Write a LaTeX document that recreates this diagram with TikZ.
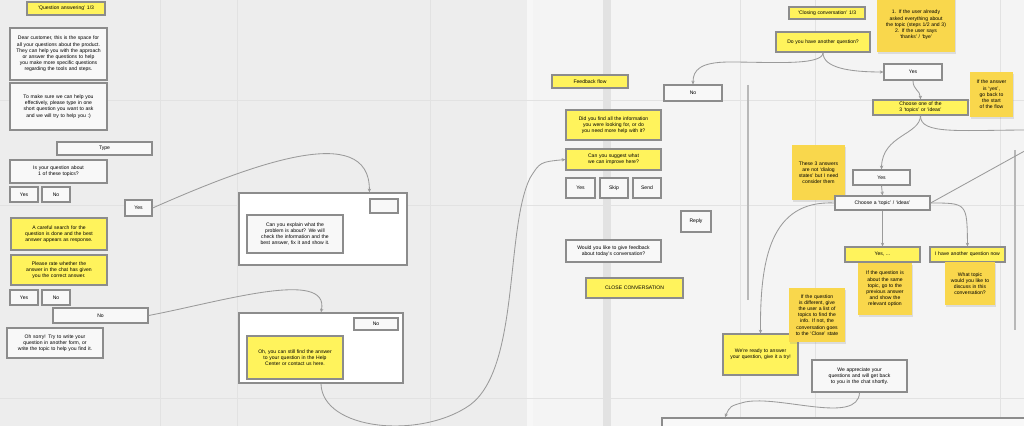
\documentclass[tikz,border=0pt]{standalone}
\usepackage{fontspec}
\setmainfont{Liberation Sans}
\usetikzlibrary{arrows.meta,shadows}

\newlength\pxl
\setlength\pxl{0.025cm}
\hyphenpenalty=10000
\exhyphenpenalty=10000

\definecolor{boardbg}{HTML}{EDEDED}
\definecolor{gridgray}{HTML}{E2E2E2}
\definecolor{edgegray}{HTML}{8C8C8C}
\definecolor{linkgray}{HTML}{9A9A9A}
\definecolor{boxyellow}{HTML}{FFF35C}
\definecolor{stickyyellow}{HTML}{F9D74C}

\begin{document}
\begin{tikzpicture}[x=0.025cm, y=-0.025cm,
	every node/.style={black, font=\fontsize{3.6}{4.4}\selectfont, inner sep=1pt, align=center},
	sz/.style 2 args={minimum width=#1\pxl, minimum height=#2\pxl,
		/utils/exec={\pgfmathsetlengthmacro\boxtw{#1\pxl-9\pxl}}, text width=\boxtw},
	plainbox/.style={draw=edgegray, line width=0.9pt, fill=white!60!boardbg},
	framebox/.style={draw=edgegray, line width=1pt, fill=white},
	ylwbox/.style={draw=edgegray, line width=0.9pt, fill=boxyellow},
	sticky/.style={fill=stickyyellow, drop shadow={opacity=0.2, shadow xshift=0.6pt, shadow yshift=-1.4pt}},
	link/.style={draw=linkgray, line width=0.6pt},
	>={Stealth[length=2.6pt,width=2.4pt]}]

	\useasboundingbox (0,0) rectangle (1024,426);
	\clip (0,0) rectangle (1024,426);

	% board
	\fill[boardbg] (0,0) rectangle (1024,426);
	\fill[white!40!boardbg] (530,0) rectangle (1024,426);
	\fill[white!55!boardbg] (527,0) rectangle (533,426);
	\fill[gridgray] (603,0) rectangle (611,426);
	\foreach \gx in {160,237,430,740,815,1000}
		\draw[gridgray, line width=0.4pt] (\gx,0) -- (\gx,426);
	\foreach \gy in {100,205,398}
		\draw[gridgray, line width=0.4pt] (0,\gy) -- (1024,\gy);

	% left column
	\node[ylwbox, sz={78}{13}] (askTitle) at (66,8.5) {`Question answering' 1/3};
	\node[plainbox, sz={97}{52}] (welcome) at (58.5,54) {Dear customer, this is the space for all your questions about the product. They can help you with the approach or answer the questions to help you make more specific questions regarding the tools and steps.};
	\node[plainbox, sz={97}{47}] (typeQ) at (58.5,106.5) {To make sure we can help you effectively, please type in one short question you want to ask and we will try to help you :)};
	\node[plainbox, sz={95}{13}] (typeBar) at (104.5,148.5) {Type};
	\node[plainbox, sz={97}{23}] (topicQ) at (58.5,171.5) {Is your question about 1 of these topics?};
	\node[plainbox, sz={28}{15}] (yesA) at (24,194.5) {Yes};
	\node[plainbox, sz={28}{15}] (noA) at (56,194.5) {No};
	\node[plainbox, sz={27}{16}] (yesBar) at (138.5,208) {Yes};
	\node[ylwbox, sz={96}{32}] (search) at (59,234) {A careful search for the question is done and the best answer appears as response.};
	\node[ylwbox, sz={96}{30}] (rate) at (59,270) {Please rate whether the answer in the chat has given you the correct answer.};
	\node[plainbox, sz={28}{15}] (yesB) at (24,297.5) {Yes};
	\node[plainbox, sz={28}{15}] (noB) at (56,297.5) {No};
	\node[plainbox, sz={95}{15}] (noBar) at (100.5,315.5) {No};
	\node[plainbox, sz={96}{30}] (sorry) at (55,343) {Oh sorry! Try to write your question in another form, or write the topic to help you find it.};

	% middle frames
	\node[framebox, sz={168}{72}] (frameYes) at (323,229) {};
	\node[plainbox, sz={28}{14}] (tagYes) at (384,206) {};
	\node[plainbox, sz={96}{38}] (explain) at (295,234) {Can you explain what the problem is about? We will check the information and the best answer, fix it and show it.};
	\node[framebox, sz={164}{70}] (frameNo) at (321,348) {};
	\node[plainbox, sz={44}{12}] (tagNo) at (376,324) {No};
	\node[ylwbox, sz={96}{43}] (helpCenter) at (295,357.5) {Oh, you can still find the answer to your question in the Help Center or contact us here.};

	% feedback flow
	\node[ylwbox, sz={76}{13}] (fbTitle) at (590,81.5) {Feedback flow};
	\node[ylwbox, sz={95}{30}] (fbFound) at (613.5,125) {Did you find all the information you were looking for, or do you need more help with it?};
	\node[ylwbox, sz={95}{21}] (fbImprove) at (613.5,159.5) {Can you suggest what we can improve here?};
	\node[plainbox, sz={29}{20}] (optYes) at (580.5,188) {Yes};
	\node[plainbox, sz={28}{20}] (optSkip) at (614,188) {Skip};
	\node[plainbox, sz={28}{20}] (optSend) at (647,188) {Send};
	\node[plainbox, sz={30}{21}] (reply) at (696,221.5) {Reply};
	\node[plainbox, sz={95}{22}] (fbAsk) at (613.5,251) {Would you like to give feedback about today's conversation?};
	\node[ylwbox, sz={97}{20}] (close) at (634.5,288) {CLOSE CONVERSATION};
	\node[plainbox, sz={58}{16}] (noC) at (693,93) {No};

	% closing conversation
	\node[ylwbox, sz={76}{12}] (closeTitle) at (827,13) {`Closing conversation' 1/3};
	\node[ylwbox, sz={94}{20}] (another) at (823,42) {Do you have another question?};
	\node[sticky, sz={78}{54}] (noteWhen) at (916,25) {1. If the user already asked everything about the topic (steps 1/2 and 3)\\ 2. If the user says `thanks' / `bye'};
	\node[plainbox, sz={58}{16}] (yesC) at (913,72) {Yes};
	\node[sticky, sz={43}{45}] (noteBack) at (991.5,94.5) {If the answer is `yes', go back to the start of the flow};
	\node[ylwbox, sz={95}{15}] (sameTopic) at (920.5,107.5) {Choose one of the 3 `topics' or `ideas'};
	\node[sticky, sz={53}{55}] (noteStates) at (818.5,172.5) {These 3 answers are not `dialog states' but I need consider them};
	\node[plainbox, sz={57}{15}] (yesD) at (881.5,177.5) {Yes};
	\node[plainbox, sz={95}{14}] (choose) at (882.5,203) {Choose a `topic' / `ideas'};
	\node[ylwbox, sz={75}{15}] (yesSame) at (882.5,254.5) {Yes, ...};
	\node[ylwbox, sz={75}{15}] (newQ) at (967.5,254.5) {I have another question now};
	\node[sticky, sz={54}{52}] (noteSame) at (885,289) {If the question is about the same topic, go to the previous answer and show the relevant option};
	\node[sticky, sz={50}{43}] (noteTopic) at (970,283.5) {What topic would you like to discuss in this conversation?};
	\node[ylwbox, sz={75}{41}] (ready) at (760.5,354.5) {We're ready to answer your question, give it a try!};
	\node[sticky, sz={56}{54}] (noteOther) at (817,315) {If the question is different, give the user a list of topics to find the info. If not, the conversation goes to the `Close' state};
	\node[plainbox, sz={95}{32}] (thanks) at (859.5,376) {We appreciate your questions and will get back to you in the chat shortly.};
	\node[draw=edgegray, line width=1.2pt, fill=white!60!boardbg, sz={380}{30}] (nextFrame) at (852,433) {};

	\coordinate (offRightA) at (1030,130);
	\coordinate (offRightB) at (1030,148);

	% frame edges
	\draw[linkgray!70, line width=0.8pt] (748,85) -- (748,300);
	\draw[linkgray!70, line width=0.8pt] (1015,150) -- (1015,330);

	% connectors
	\draw[link, ->] (yesBar.east) .. controls (250,165) and (370,120) .. (frameYes.north -| tagYes.west);
	\draw[link, ->] (noBar.east) .. controls (220,302) and (330,268) .. (frameNo.north);
	\draw[link, ->] (frameNo.south) .. controls (322,430) and (420,440) .. (470,405)
		.. controls (520,368) and (505,230) .. (530,178) .. controls (540,162) .. (fbImprove.west);
	\draw[link, ->] (another.south) .. controls (823,66) and (770,62) .. (730,62)
		.. controls (700,62) and (693,70) .. (noC.north);
	\draw[link, ->] (another.south) .. controls (823,68) and (850,72) .. (yesC.west);
	\draw[link, ->] (yesC.south) .. controls (913,90) and (920,90) .. (sameTopic.north);
	\draw[link, ->] (sameTopic.south) .. controls (920,135) and (882,135) .. (yesD.north);
	\draw[link] (sameTopic.south) .. controls (920,135) and (960,130) .. (offRightA);
	\draw[link, ->] (yesD.south) -- (choose.north);
	\draw[link, ->] (choose.south) -- (yesSame.north);
	\draw[link, ->] (choose.east) .. controls (967,203) .. (newQ.north);
	\draw[link] (choose.east) -- (offRightB);
	\draw[link, ->] (choose.west) .. controls (770,200) and (760,260) .. (ready.north);
	\draw[link, ->] (thanks.south) .. controls (858,425) and (780,395) .. (745,402)
		.. controls (730,406) .. (nextFrame.north west -| 725,0);
\end{tikzpicture}
\end{document}
